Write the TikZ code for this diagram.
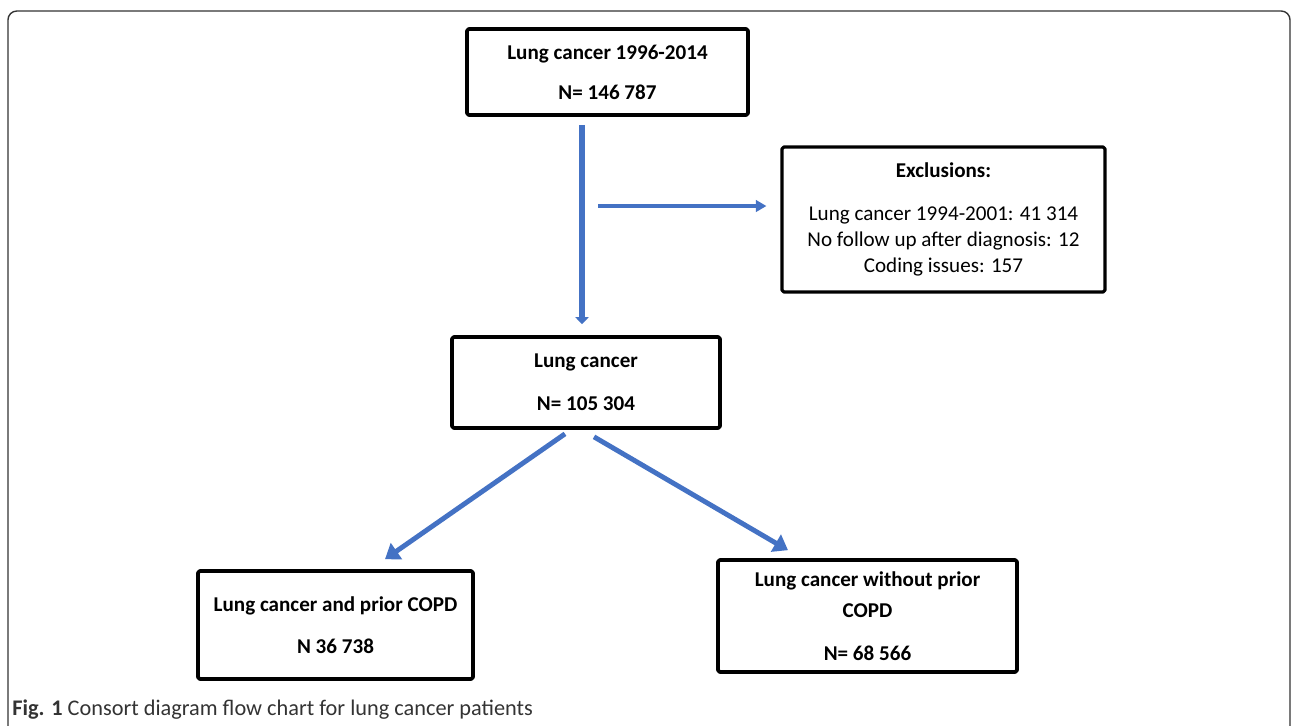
\documentclass[tikz,border=0pt]{standalone}
\usepackage{fontspec}
\setmainfont{Carlito}
\usetikzlibrary{arrows.meta}
\definecolor{offblue}{HTML}{4472C4}
\definecolor{framegray}{HTML}{333333}
\begin{document}
\begin{tikzpicture}[x=.02cm, y=-.02cm, line join=round, font=\fontsize{12}{14.7}\selectfont,
	cbox/.style={draw, line width=2.1pt, rounded corners=1pt, align=center, inner sep=0pt},
	flow/.style={draw=offblue, line width=#1}]
	\useasboundingbox (0,0) rectangle (1292,725);
	% outer frame of the figure
	\draw[framegray, line width=.8pt, rounded corners=5pt] (8,760)--(8,11)--(1290,11)--(1290,760);
	% boxes
	\node[cbox, font=\fontsize{12}{14.7}\selectfont\bfseries, minimum width=5.62cm, minimum height=1.72cm] (top) at (607.5,72) {Lung cancer 1996-2014\\[8pt]N= 146 787};
	\node[cbox, line width=1.8pt, minimum width=6.46cm, minimum height=2.9cm] (excl) at (943.5,219.5) {\textbf{Exclusions:}\\[10pt]Lung cancer 1994-2001: 41 314\\No follow up after diagnosis: 12\\Coding issues: 157};
	\node[cbox, font=\fontsize{12}{14.7}\selectfont\bfseries, minimum width=5.36cm, minimum height=1.82cm] (mid) at (586,382.5) {Lung cancer\\[10pt]N= 105 304};
	\node[cbox, font=\fontsize{12}{14.7}\selectfont\bfseries, minimum width=5.5cm, minimum height=2.16cm] (copd) at (335.5,625) {Lung cancer and prior COPD\\[9pt]N 36 738};
	\node[cbox, font=\fontsize{12}{14.7}\selectfont\bfseries, minimum width=5.98cm, minimum height=2.24cm] (nocopd) at (867.5,616) {Lung cancer without prior\\[3pt]COPD\\[10pt]N= 68 566};
	% connectors
	\coordinate (vs) at ([shift={(-25.5,8)}]top.south);
	\coordinate (hs) at (598,206);
	\draw[flow=3.2pt, -{Triangle[length=4pt, width=7.5pt]}, shorten >=.22cm] (vs) -- (vs |- mid.north);
	\draw[flow=2.2pt, -{Triangle[length=6pt, width=6.5pt]}, shorten >=.28cm] (hs) -- (hs -| excl.west);
	\draw[flow=2.8pt, -{Triangle[length=8pt, width=11pt]}] ([shift={(-21,4)}]mid.south) -- ([shift={(49.5,-10)}]copd.north);
	\draw[flow=2.8pt, -{Triangle[length=8pt, width=11pt]}] ([shift={(8,7)}]mid.south) -- ([shift={(-79.5,-8)}]nocopd.north);
	% caption
	\node[anchor=west, inner sep=0pt, text=framegray, font=\fontsize{12.7}{15}\selectfont] (cap) at (12,710) {\textbf{Fig. 1} Consort diagram flow chart for lung cancer patients};
\end{tikzpicture}
\end{document}
